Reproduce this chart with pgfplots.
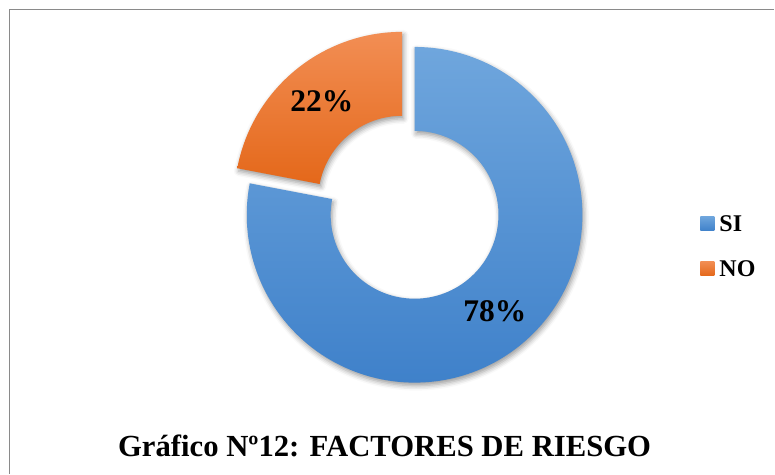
\documentclass[border=0pt]{standalone}
\usepackage{pgfplots}
\pgfplotsset{compat=1.18}
\usepackage{pgfplotstable}
\usepackage{fontspec}
\setmainfont{Liberation Serif}
\usetikzlibrary{shadows.blur}
\definecolor{bluetop}{HTML}{6FA6DD}
\definecolor{bluebot}{HTML}{3F81CA}
\definecolor{orgtop}{HTML}{F28E54}
\definecolor{orgbot}{HTML}{E4681A}
\definecolor{framegray}{HTML}{8A8A8A}
\pgfplotstableread{
label value
SI 78
NO 22
}\piedata
\begin{document}
\begin{tikzpicture}
\pgfplotstablegetelem{0}{value}\of\piedata \let\vSI\pgfplotsretval
\pgfplotstablegetelem{1}{value}\of\piedata \let\vNO\pgfplotsretval
\pgfmathsetmacro\aStart{90}
\pgfmathsetmacro\aMid{90-\vSI*(360/(\vSI+\vNO))}
\pgfmathsetmacro\aEnd{\aMid-\vNO*(360/(\vSI+\vNO))}
\pgfmathsetmacro\mSI{(\aStart+\aMid)/2}
\pgfmathsetmacro\mNO{(\aMid+\aEnd)/2+360}
\pgfmathsetmacro\aMidP{\aMid+360}
\pgfmathtruncatemacro\pSI{round(100*\vSI/(\vSI+\vNO))}
\pgfmathtruncatemacro\pNO{round(100*\vNO/(\vSI+\vNO))}
\begin{axis}[
  width=775pt, height=474pt, scale only axis,
  xmin=0, xmax=775, ymin=0, ymax=474, y dir=reverse,
  hide axis, clip=false]
\path (axis cs:0,0) rectangle (axis cs:775,474);
% frame
\draw[framegray, line width=1.6pt] (axis cs:9.5,474) -- (axis cs:9.5,9.5) -- (axis cs:775,9.5);
% SI slice
\begin{scope}[shift={(axis cs:415,215)}]
\path[blur shadow={shadow xshift=1.5pt, shadow yshift=-3pt, shadow blur radius=5pt, shadow opacity=40},
      top color=bluetop, bottom color=bluebot]
  (\aStart:168pt) arc[start angle=\aStart, end angle=\aMid, radius=168pt]
  -- (\aMid:84pt) arc[start angle=\aMid, end angle=\aStart, radius=84pt] -- cycle;
\node[font=\fontsize{31.5}{34}\bfseries\selectfont, text height=0.68em, text depth=0pt, inner sep=0pt, yshift=-6pt]
  at (\mSI:126pt) {\pSI\%};
\end{scope}
% NO slice (exploded)
\begin{scope}[shift={(axis cs:415,215)}, shift={(\mNO:19.6pt)}]
\path[blur shadow={shadow xshift=1.5pt, shadow yshift=-3pt, shadow blur radius=5pt, shadow opacity=40},
      top color=orgtop, bottom color=orgbot]
  (\aMidP:168pt) arc[start angle=\aMidP, end angle=90, radius=168pt]
  -- (90:84pt) arc[start angle=90, end angle=\aMidP, radius=84pt] -- cycle;
\node[font=\fontsize{31.5}{34}\bfseries\selectfont, text height=0.68em, text depth=0pt, inner sep=0pt, yshift=-5pt]
  at (\mNO:126pt) {\pNO\%};
\end{scope}
% legend
\path[top color=bluetop, bottom color=bluebot] (axis cs:701,216.5) rectangle (axis cs:715,231);
\path[top color=orgtop, bottom color=orgbot] (axis cs:701,261.5) rectangle (axis cs:715,276);
\node[anchor=base west, inner sep=0pt, font=\fontsize{24}{26}\bfseries\selectfont] at (axis cs:720,231.5) {SI};
\node[anchor=base west, inner sep=0pt, font=\fontsize{24}{26}\bfseries\selectfont] at (axis cs:720,276.5) {NO};
% title
\node[anchor=base, inner sep=0pt, font=\fontsize{30.7}{33}\bfseries\selectfont] at (axis cs:385,456.5) {Gráfico Nº12: FACTORES DE RIESGO};
\end{axis}
\end{tikzpicture}
\end{document}
